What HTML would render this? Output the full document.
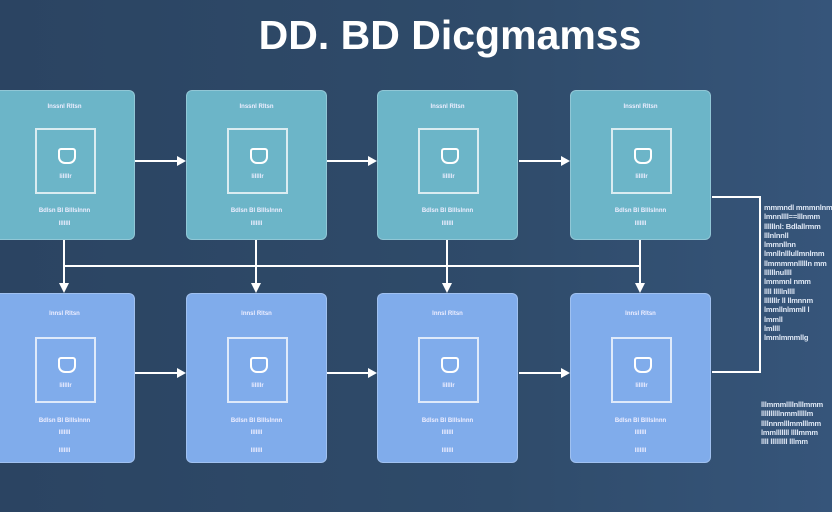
<!DOCTYPE html>
<html><head><style>
body{margin:0;width:832px;height:512px;overflow:hidden;background:linear-gradient(90deg,#2b4462 0%,#2f4b6a 60%,#36557a 100%);font-family:"Liberation Sans",sans-serif;position:relative}
.t{position:absolute;left:0;width:900px;top:12px;text-align:center;color:#fff;font-weight:bold;font-size:41px}
.b{position:absolute;width:141px;border-radius:6px;border:1px solid rgba(255,255,255,.25);box-sizing:border-box}
.top{top:90px;height:150px;background:#6cb5c8}
.bot{top:293px;height:170px;background:#80aceb}
.in{position:absolute;left:40px;top:37px;width:61px;height:66px;border:2px solid rgba(255,255,255,.75);box-sizing:border-box}
.l{position:absolute;left:0;width:100%;text-align:center;color:#eef;font-size:6px;font-weight:bold}
.ic{position:absolute;left:21px;top:18px;width:14px;height:12px;border:2px solid #fff;border-radius:3px 3px 7px 7px}
.list{position:absolute;color:#dfe8f5;font-size:7.5px;font-weight:bold;line-height:9.3px;white-space:nowrap;letter-spacing:-0.2px}
</style></head><body>
<div class="t">DD. BD Dicgmamss</div>
<svg width="832" height="512" style="position:absolute;left:0;top:0">
<g stroke="#fff" stroke-width="2" fill="none">
<line x1="135" y1="161" x2="180" y2="161"/><line x1="327" y1="161" x2="371" y2="161"/><line x1="519" y1="161" x2="564" y2="161"/>
<line x1="135" y1="373" x2="180" y2="373"/><line x1="327" y1="373" x2="371" y2="373"/><line x1="519" y1="373" x2="564" y2="373"/>
<line x1="64" y1="266" x2="640" y2="266"/>
<line x1="64" y1="240" x2="64" y2="286"/><line x1="256" y1="240" x2="256" y2="286"/><line x1="447" y1="240" x2="447" y2="286"/><line x1="640" y1="240" x2="640" y2="286"/>
<polyline points="712,197 760,197 760,372 712,372"/>
</g>
<g fill="#fff">
<polygon points="186,161 177,156 177,166"/><polygon points="377,161 368,156 368,166"/><polygon points="570,161 561,156 561,166"/>
<polygon points="186,373 177,368 177,378"/><polygon points="377,373 368,368 368,378"/><polygon points="570,373 561,368 561,378"/>
<polygon points="64,293 59,283 69,283"/><polygon points="256,293 251,283 261,283"/><polygon points="447,293 442,283 452,283"/><polygon points="640,293 635,283 645,283"/>
</g>
</svg>
<div class="b top" style="left:-6px"><div class="l" style="top:13px">Inssnl Rltsn</div><div class="in"><div class="ic"></div><div class="l" style="top:44px">lillllr</div></div><div class="l" style="top:117px">Bdlsn Bl Blllslnnn</div><div class="l" style="top:130px">lllllll</div></div>
<div class="b top" style="left:186px"><div class="l" style="top:13px">Inssnl Rltsn</div><div class="in"><div class="ic"></div><div class="l" style="top:44px">lillllr</div></div><div class="l" style="top:117px">Bdlsn Bl Blllslnnn</div><div class="l" style="top:130px">lllllll</div></div>
<div class="b top" style="left:377px"><div class="l" style="top:13px">Inssnl Rltsn</div><div class="in"><div class="ic"></div><div class="l" style="top:44px">lillllr</div></div><div class="l" style="top:117px">Bdlsn Bl Blllslnnn</div><div class="l" style="top:130px">lllllll</div></div>
<div class="b top" style="left:570px"><div class="l" style="top:13px">Inssnl Rltsn</div><div class="in"><div class="ic"></div><div class="l" style="top:44px">lillllr</div></div><div class="l" style="top:117px">Bdlsn Bl Blllslnnn</div><div class="l" style="top:130px">lllllll</div></div>
<div class="b bot" style="left:-6px"><div class="l" style="top:17px">Innsl Rltsn</div><div class="in" style="top:43px"><div class="ic"></div><div class="l" style="top:44px">lillllr</div></div><div class="l" style="top:124px">Bdlsn Bl Blllslnnn</div><div class="l" style="top:136px">lllllll</div><div class="l" style="top:154px">lllllll</div></div>
<div class="b bot" style="left:186px"><div class="l" style="top:17px">Innsl Rltsn</div><div class="in" style="top:43px"><div class="ic"></div><div class="l" style="top:44px">lillllr</div></div><div class="l" style="top:124px">Bdlsn Bl Blllslnnn</div><div class="l" style="top:136px">lllllll</div><div class="l" style="top:154px">lllllll</div></div>
<div class="b bot" style="left:377px"><div class="l" style="top:17px">Innsl Rltsn</div><div class="in" style="top:43px"><div class="ic"></div><div class="l" style="top:44px">lillllr</div></div><div class="l" style="top:124px">Bdlsn Bl Blllslnnn</div><div class="l" style="top:136px">lllllll</div><div class="l" style="top:154px">lllllll</div></div>
<div class="b bot" style="left:570px"><div class="l" style="top:17px">Innsl Rltsn</div><div class="in" style="top:43px"><div class="ic"></div><div class="l" style="top:44px">lillllr</div></div><div class="l" style="top:124px">Bdlsn Bl Blllslnnn</div><div class="l" style="top:136px">lllllll</div><div class="l" style="top:154px">lllllll</div></div>
<div class="list" style="left:764px;top:203px">mmmndl mmmnlnm<br>lmnnllll==lllnmm<br>llllllnl: Bdlallrmm<br>lllnlnnll<br>lmmnllnn<br>lmnllnlllullmnlmm<br>llmmmmnllllln mm<br>llllllnullll<br>lmmmnl nmm<br>llll lllllnllll<br>lllllllr ll  llmnnm<br>lmmllnlmmll l<br>lmmll<br>lmllll<br>lmmlmmmllg</div>
<div class="list" style="left:761px;top:400px">lllmmmllllnlllmmm<br>llllllllllnmmlllllm<br>llllnnmlllmmlllmm<br>lmmlllllll llllmmm<br>llll lllllllll lllmm</div>
</body></html>
